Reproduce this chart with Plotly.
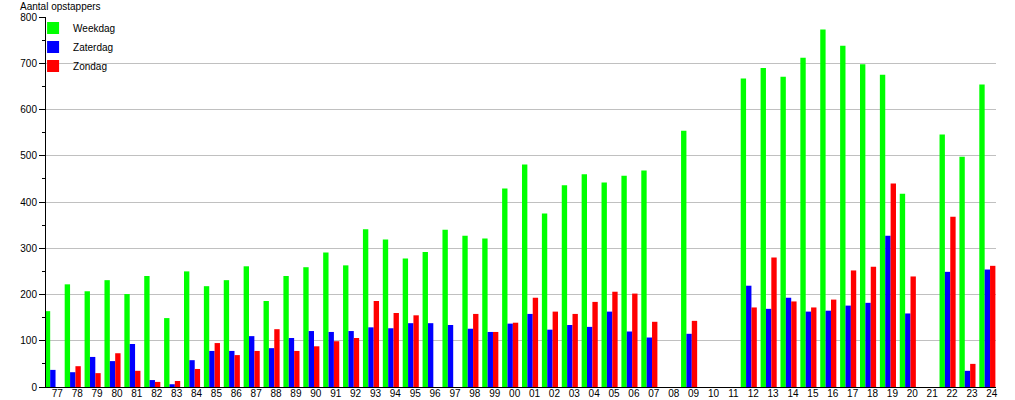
import plotly.graph_objects as go

years = ["77", "78", "79", "80", "81", "82", "83", "84", "85", "86", "87", "88",
         "89", "90", "91", "92", "93", "94", "95", "96", "97", "98", "99", "00",
         "01", "02", "03", "04", "05", "06", "07", "08", "09", "10", "11", "12",
         "13", "14", "15", "16", "17", "18", "19", "20", "21", "22", "23", "24"]

weekdag = [164, 222, 207, 231, 201, 240, 149, 250, 218, 231, 261, 186,
           240, 259, 291, 263, 341, 319, 278, 292, 340, 327, 321, 429,
           481, 375, 436, 460, 442, 457, 468, 0, 554, 0, 0, 667,
           690, 671, 712, 773, 738, 698, 675, 418, 0, 546, 498, 654]

zaterdag = [37, 32, 65, 56, 93, 15, 6, 58, 78, 78, 110, 84,
            106, 121, 119, 121, 129, 127, 138, 138, 134, 126, 119, 137,
            158, 124, 134, 130, 163, 120, 107, 0, 115, 0, 0, 219,
            169, 193, 163, 165, 176, 182, 327, 159, 0, 249, 35, 254]

zondag = [0, 45, 30, 73, 35, 11, 13, 39, 95, 69, 78, 125,
          78, 88, 99, 106, 186, 160, 155, 0, 0, 158, 119, 139,
          193, 163, 158, 184, 206, 202, 141, 0, 143, 0, 0, 172,
          280, 185, 172, 189, 252, 260, 440, 239, 0, 368, 50, 262]

series = [("Weekdag", weekdag, "#00FF00", -0.63),
          ("Zaterdag", zaterdag, "#0000FF", -0.36),
          ("Zondag", zondag, "#FF0000", -0.09)]

idx = list(range(len(years)))
W = 0.27

fig = go.Figure()
for name, vals, col, off in series:
    fig.add_trace(go.Bar(
        x=idx, y=vals, name=name, width=W, offset=off,
        marker=dict(color=col, line=dict(width=0)),
    ))

fig.update_layout(
    width=1015, height=400,
    margin=dict(l=46, r=19, t=17, b=13, autoexpand=False),
    paper_bgcolor="white", plot_bgcolor="white",
    barmode="overlay",
    font=dict(family="Liberation Sans, Arial, sans-serif", size=10, color="#000000"),
    showlegend=True,
    legend=dict(x=-0.0136, y=1.0095, xanchor="left", yanchor="top",
                bgcolor="rgba(0,0,0,0)", borderwidth=0,
                font=dict(size=10), tracegroupgap=0, itemwidth=30),
    xaxis=dict(
        range=[-0.57, 47.21], tickmode="array", tickvals=idx, ticktext=years,
        showgrid=False, zeroline=False, showline=True, linecolor="#000000",
        linewidth=1, ticks="", tickfont=dict(size=10), fixedrange=True,
        automargin=False, ticklabelstandoff=-3,
    ),
    yaxis=dict(
        range=[0, 800], dtick=100, tick0=0, showgrid=True, gridcolor="#C0C0C0",
        gridwidth=1, zeroline=False, showline=True, linecolor="#000000",
        linewidth=1, ticks="outside", ticklen=6, tickcolor="#000000",
        minor=dict(dtick=50, ticks="outside", ticklen=3, tickcolor="#000000", showgrid=False),
        tickfont=dict(size=10), automargin=False,
    ),
    annotations=[dict(
        text="Aantal opstappers", xref="paper", yref="paper",
        x=(18 - 46) / 950, y=(387 - 6) / 370, xanchor="left", yanchor="middle",
        showarrow=False, font=dict(size=10, color="#000000"),
    )],
)

# remove the browser's default 8px page margin so the figure fills the window
fig.write_html("out.html", config={"displayModeBar": False},
               post_script="document.body.style.margin='0';")
